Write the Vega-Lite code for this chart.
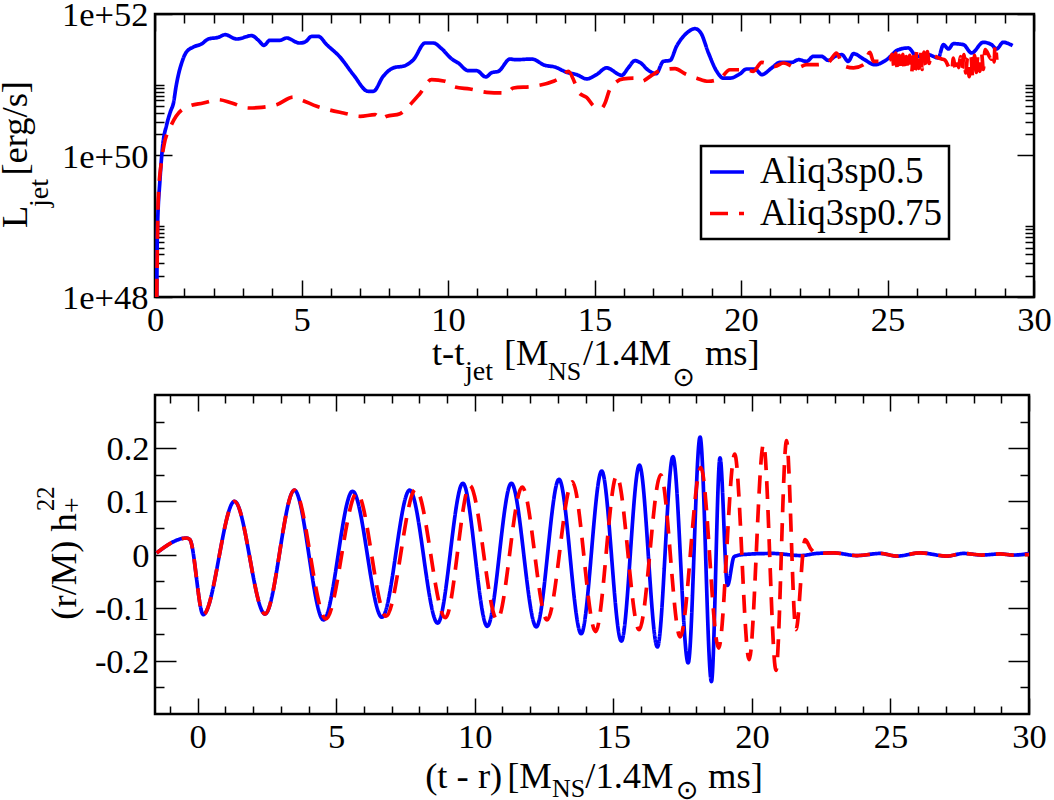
{
  "$schema": "https://vega.github.io/schema/vega-lite/v6.json",
  "background": "white",
  "autosize": {"type": "none"},
  "padding": {"left": 155, "top": 14, "right": 899, "bottom": 786},
  "datasets": {
    "lum": [
      {"t":0.06,"L":1e48,"s":"Aliq3sp0.5"},{"t":0.08,"L":8e48,"s":"Aliq3sp0.5"},{"t":0.17,"L":4.55e49,"s":"Aliq3sp0.5"},{"t":0.26,"L":1.35e50,"s":"Aliq3sp0.5"},{"t":0.4,"L":2.73e50,"s":"Aliq3sp0.5"},{"t":0.53,"L":4.21e50,"s":"Aliq3sp0.5"},{"t":0.63,"L":5.52e50,"s":"Aliq3sp0.5"},{"t":0.72,"L":9.5e50,"s":"Aliq3sp0.5"},{"t":0.8,"L":1.39e51,"s":"Aliq3sp0.5"},{"t":0.91,"L":2.03e51,"s":"Aliq3sp0.5"},{"t":1.05,"L":2.81e51,"s":"Aliq3sp0.5"},{"t":1.31,"L":3.42e51,"s":"Aliq3sp0.5"},{"t":1.59,"L":3.77e51,"s":"Aliq3sp0.5"},{"t":1.82,"L":4.43e51,"s":"Aliq3sp0.5"},{"t":2.16,"L":4.68e51,"s":"Aliq3sp0.5"},{"t":2.39,"L":5.1e51,"s":"Aliq3sp0.5"},{"t":2.79,"L":4.43e51,"s":"Aliq3sp0.5"},{"t":3.3,"L":4.94e51,"s":"Aliq3sp0.5"},{"t":3.53,"L":4.25e51,"s":"Aliq3sp0.5"},{"t":3.72,"L":3.61e51,"s":"Aliq3sp0.5"},{"t":3.92,"L":4.25e51,"s":"Aliq3sp0.5"},{"t":4.27,"L":4.25e51,"s":"Aliq3sp0.5"},{"t":4.49,"L":4.58e51,"s":"Aliq3sp0.5"},{"t":4.93,"L":3.89e51,"s":"Aliq3sp0.5"},{"t":5.12,"L":4.02e51,"s":"Aliq3sp0.5"},{"t":5.35,"L":4.83e51,"s":"Aliq3sp0.5"},{"t":5.57,"L":4.83e51,"s":"Aliq3sp0.5"},{"t":5.86,"L":3.69e51,"s":"Aliq3sp0.5"},{"t":6.31,"L":2.47e51,"s":"Aliq3sp0.5"},{"t":6.77,"L":1.39e51,"s":"Aliq3sp0.5"},{"t":7.28,"L":8.07e50,"s":"Aliq3sp0.5"},{"t":7.45,"L":8.07e50,"s":"Aliq3sp0.5"},{"t":7.79,"L":1.32e51,"s":"Aliq3sp0.5"},{"t":8.13,"L":1.73e51,"s":"Aliq3sp0.5"},{"t":8.53,"L":1.86e51,"s":"Aliq3sp0.5"},{"t":8.82,"L":2.26e51,"s":"Aliq3sp0.5"},{"t":9.22,"L":3.89e51,"s":"Aliq3sp0.5"},{"t":9.5,"L":3.89e51,"s":"Aliq3sp0.5"},{"t":9.78,"L":3.24e51,"s":"Aliq3sp0.5"},{"t":10.13,"L":2.31e51,"s":"Aliq3sp0.5"},{"t":10.35,"L":2.03e51,"s":"Aliq3sp0.5"},{"t":10.69,"L":1.58e51,"s":"Aliq3sp0.5"},{"t":10.98,"L":1.58e51,"s":"Aliq3sp0.5"},{"t":11.29,"L":1.29e51,"s":"Aliq3sp0.5"},{"t":11.49,"L":1.48e51,"s":"Aliq3sp0.5"},{"t":11.72,"L":1.55e51,"s":"Aliq3sp0.5"},{"t":12.12,"L":2.31e51,"s":"Aliq3sp0.5"},{"t":12.29,"L":2.26e51,"s":"Aliq3sp0.5"},{"t":12.86,"L":2.31e51,"s":"Aliq3sp0.5"},{"t":13.31,"L":1.88e51,"s":"Aliq3sp0.5"},{"t":13.65,"L":1.78e51,"s":"Aliq3sp0.5"},{"t":14.05,"L":1.5e51,"s":"Aliq3sp0.5"},{"t":14.39,"L":1.39e51,"s":"Aliq3sp0.5"},{"t":14.73,"L":1.21e51,"s":"Aliq3sp0.5"},{"t":15.07,"L":1.39e51,"s":"Aliq3sp0.5"},{"t":15.41,"L":1.73e51,"s":"Aliq3sp0.5"},{"t":15.93,"L":1.36e51,"s":"Aliq3sp0.5"},{"t":16.15,"L":1.73e51,"s":"Aliq3sp0.5"},{"t":16.38,"L":2.19e51,"s":"Aliq3sp0.5"},{"t":16.55,"L":2.07e51,"s":"Aliq3sp0.5"},{"t":16.84,"L":1.6e51,"s":"Aliq3sp0.5"},{"t":17.1,"L":1.43e51,"s":"Aliq3sp0.5"},{"t":17.35,"L":2.14e51,"s":"Aliq3sp0.5"},{"t":17.58,"L":2.21e51,"s":"Aliq3sp0.5"},{"t":17.8,"L":3.49e51,"s":"Aliq3sp0.5"},{"t":18.15,"L":5.39e51,"s":"Aliq3sp0.5"},{"t":18.43,"L":6.2e51,"s":"Aliq3sp0.5"},{"t":18.63,"L":5.39e51,"s":"Aliq3sp0.5"},{"t":18.89,"L":2.81e51,"s":"Aliq3sp0.5"},{"t":19.17,"L":1.55e51,"s":"Aliq3sp0.5"},{"t":19.4,"L":1.24e51,"s":"Aliq3sp0.5"},{"t":19.62,"L":1.24e51,"s":"Aliq3sp0.5"},{"t":19.97,"L":1.43e51,"s":"Aliq3sp0.5"},{"t":20.19,"L":1.67e51,"s":"Aliq3sp0.5"},{"t":20.48,"L":1.67e51,"s":"Aliq3sp0.5"},{"t":20.71,"L":1.39e51,"s":"Aliq3sp0.5"},{"t":21.05,"L":1.73e51,"s":"Aliq3sp0.5"},{"t":21.33,"L":2.07e51,"s":"Aliq3sp0.5"},{"t":21.73,"L":2.07e51,"s":"Aliq3sp0.5"},{"t":21.96,"L":2.26e51,"s":"Aliq3sp0.5"},{"t":22.24,"L":2.14e51,"s":"Aliq3sp0.5"},{"t":22.47,"L":2.52e51,"s":"Aliq3sp0.5"},{"t":22.75,"L":2.52e51,"s":"Aliq3sp0.5"},{"t":22.98,"L":2.21e51,"s":"Aliq3sp0.5"},{"t":23.26,"L":2.58e51,"s":"Aliq3sp0.5"},{"t":23.44,"L":2.66e51,"s":"Aliq3sp0.5"},{"t":23.66,"L":2.14e51,"s":"Aliq3sp0.5"},{"t":23.84,"L":2.75e51,"s":"Aliq3sp0.5"},{"t":24.18,"L":2.31e51,"s":"Aliq3sp0.5"},{"t":24.57,"L":1.92e51,"s":"Aliq3sp0.5"},{"t":24.97,"L":2.26e51,"s":"Aliq3sp0.5"},{"t":25.37,"L":3.13e51,"s":"Aliq3sp0.5"},{"t":25.71,"L":3.31e51,"s":"Aliq3sp0.5"},{"t":26.0,"L":2.52e51,"s":"Aliq3sp0.5"},{"t":26.39,"L":2.66e51,"s":"Aliq3sp0.5"},{"t":26.73,"L":2.39e51,"s":"Aliq3sp0.5"},{"t":26.91,"L":3.69e51,"s":"Aliq3sp0.5"},{"t":27.08,"L":3.2e51,"s":"Aliq3sp0.5"},{"t":27.25,"L":3.81e51,"s":"Aliq3sp0.5"},{"t":27.59,"L":3.69e51,"s":"Aliq3sp0.5"},{"t":27.87,"L":2.81e51,"s":"Aliq3sp0.5"},{"t":28.27,"L":3.98e51,"s":"Aliq3sp0.5"},{"t":28.55,"L":3.69e51,"s":"Aliq3sp0.5"},{"t":28.72,"L":3.2e51,"s":"Aliq3sp0.5"},{"t":28.95,"L":3.98e51,"s":"Aliq3sp0.5"},{"t":29.27,"L":3.57e51,"s":"Aliq3sp0.5"},
      {"t":0.06,"L":1e48,"s":"Aliq3sp0.75"},{"t":0.11,"L":2.38e49,"s":"Aliq3sp0.75"},{"t":0.23,"L":8.74e49,"s":"Aliq3sp0.75"},{"t":0.31,"L":1.42e50,"s":"Aliq3sp0.75"},{"t":0.51,"L":2.45e50,"s":"Aliq3sp0.75"},{"t":0.72,"L":3.58e50,"s":"Aliq3sp0.75"},{"t":1.14,"L":4.96e50,"s":"Aliq3sp0.75"},{"t":1.65,"L":5.52e50,"s":"Aliq3sp0.75"},{"t":2.16,"L":6.15e50,"s":"Aliq3sp0.75"},{"t":2.62,"L":5.52e50,"s":"Aliq3sp0.75"},{"t":3.19,"L":4.69e50,"s":"Aliq3sp0.75"},{"t":3.64,"L":4.8e50,"s":"Aliq3sp0.75"},{"t":4.15,"L":5.23e50,"s":"Aliq3sp0.75"},{"t":4.72,"L":6.71e50,"s":"Aliq3sp0.75"},{"t":5.06,"L":5.96e50,"s":"Aliq3sp0.75"},{"t":5.52,"L":4.96e50,"s":"Aliq3sp0.75"},{"t":5.91,"L":4.45e50,"s":"Aliq3sp0.75"},{"t":6.43,"L":3.99e50,"s":"Aliq3sp0.75"},{"t":7.0,"L":3.58e50,"s":"Aliq3sp0.75"},{"t":7.51,"L":3.78e50,"s":"Aliq3sp0.75"},{"t":7.7,"L":3.28e50,"s":"Aliq3sp0.75"},{"t":7.91,"L":3.58e50,"s":"Aliq3sp0.75"},{"t":8.36,"L":3.9e50,"s":"Aliq3sp0.75"},{"t":8.65,"L":4.96e50,"s":"Aliq3sp0.75"},{"t":9.04,"L":7.48e50,"s":"Aliq3sp0.75"},{"t":9.44,"L":1.18e51,"s":"Aliq3sp0.75"},{"t":9.9,"L":1.12e51,"s":"Aliq3sp0.75"},{"t":10.24,"L":9.3e50,"s":"Aliq3sp0.75"},{"t":10.75,"L":8.71e50,"s":"Aliq3sp0.75"},{"t":11.32,"L":7.82e50,"s":"Aliq3sp0.75"},{"t":12.0,"L":7.64e50,"s":"Aliq3sp0.75"},{"t":12.23,"L":9.0e50,"s":"Aliq3sp0.75"},{"t":12.91,"L":9.5e50,"s":"Aliq3sp0.75"},{"t":13.6,"L":1.12e51,"s":"Aliq3sp0.75"},{"t":13.82,"L":1.24e51,"s":"Aliq3sp0.75"},{"t":14.11,"L":1.55e51,"s":"Aliq3sp0.75"},{"t":14.33,"L":1.06e51,"s":"Aliq3sp0.75"},{"t":14.48,"L":7.64e50,"s":"Aliq3sp0.75"},{"t":14.73,"L":6.64e50,"s":"Aliq3sp0.75"},{"t":15.02,"L":4.85e50,"s":"Aliq3sp0.75"},{"t":15.25,"L":4.69e50,"s":"Aliq3sp0.75"},{"t":15.36,"L":5.52e50,"s":"Aliq3sp0.75"},{"t":15.53,"L":8.71e50,"s":"Aliq3sp0.75"},{"t":15.98,"L":1.21e51,"s":"Aliq3sp0.75"},{"t":16.38,"L":1.24e51,"s":"Aliq3sp0.75"},{"t":16.61,"L":1.12e51,"s":"Aliq3sp0.75"},{"t":16.95,"L":1.36e51,"s":"Aliq3sp0.75"},{"t":17.23,"L":1.58e51,"s":"Aliq3sp0.75"},{"t":17.75,"L":1.69e51,"s":"Aliq3sp0.75"},{"t":18.09,"L":1.43e51,"s":"Aliq3sp0.75"},{"t":18.49,"L":1.24e51,"s":"Aliq3sp0.75"},{"t":18.89,"L":1.12e51,"s":"Aliq3sp0.75"},{"t":19.28,"L":1.22e51,"s":"Aliq3sp0.75"},{"t":19.62,"L":1.63e51,"s":"Aliq3sp0.75"},{"t":20.19,"L":1.63e51,"s":"Aliq3sp0.75"},{"t":20.42,"L":1.55e51,"s":"Aliq3sp0.75"},{"t":20.71,"L":2.07e51,"s":"Aliq3sp0.75"},{"t":21.16,"L":1.82e51,"s":"Aliq3sp0.75"},{"t":21.45,"L":2.03e51,"s":"Aliq3sp0.75"},{"t":21.9,"L":1.73e51,"s":"Aliq3sp0.75"},{"t":22.24,"L":1.92e51,"s":"Aliq3sp0.75"},{"t":22.58,"L":1.92e51,"s":"Aliq3sp0.75"},{"t":22.98,"L":2.07e51,"s":"Aliq3sp0.75"},{"t":23.26,"L":2.81e51,"s":"Aliq3sp0.75"},{"t":23.49,"L":1.86e51,"s":"Aliq3sp0.75"},{"t":23.84,"L":1.73e51,"s":"Aliq3sp0.75"},{"t":24.18,"L":1.92e51,"s":"Aliq3sp0.75"},{"t":24.4,"L":2.87e51,"s":"Aliq3sp0.75"},{"t":24.52,"L":2.14e51,"s":"Aliq3sp0.75"},{"t":24.8,"L":2.14e51,"s":"Aliq3sp0.75"},{"t":25.08,"L":2.26e51,"s":"Aliq3sp0.75"},
      {"t":25.16,"L":2.7e51,"s":"Aliq3sp0.75"},{"t":25.22,"L":1.8e51,"s":"Aliq3sp0.75"},{"t":25.28,"L":2.8e51,"s":"Aliq3sp0.75"},{"t":25.34,"L":1.6e51,"s":"Aliq3sp0.75"},{"t":25.4,"L":2.6e51,"s":"Aliq3sp0.75"},{"t":25.46,"L":1.7e51,"s":"Aliq3sp0.75"},{"t":25.52,"L":2.7e51,"s":"Aliq3sp0.75"},{"t":25.58,"L":1.55e51,"s":"Aliq3sp0.75"},{"t":25.64,"L":2.5e51,"s":"Aliq3sp0.75"},{"t":25.7,"L":1.6e51,"s":"Aliq3sp0.75"},{"t":25.76,"L":2.6e51,"s":"Aliq3sp0.75"},{"t":25.82,"L":1.45e51,"s":"Aliq3sp0.75"},{"t":25.88,"L":2.5e51,"s":"Aliq3sp0.75"},{"t":25.94,"L":1.6e51,"s":"Aliq3sp0.75"},{"t":26.0,"L":3.0e51,"s":"Aliq3sp0.75"},{"t":26.06,"L":1.7e51,"s":"Aliq3sp0.75"},{"t":26.12,"L":3.1e51,"s":"Aliq3sp0.75"},{"t":26.18,"L":1.65e51,"s":"Aliq3sp0.75"},{"t":26.24,"L":2.9e51,"s":"Aliq3sp0.75"},{"t":26.3,"L":1.9e51,"s":"Aliq3sp0.75"},{"t":26.36,"L":2.95e51,"s":"Aliq3sp0.75"},{"t":26.42,"L":2.0e51,"s":"Aliq3sp0.75"},{"t":26.48,"L":2.7e51,"s":"Aliq3sp0.75"},{"t":26.56,"L":2.6e51,"s":"Aliq3sp0.75"},{"t":26.85,"L":2.31e51,"s":"Aliq3sp0.75"},{"t":26.95,"L":2.25e51,"s":"Aliq3sp0.75"},{"t":27.19,"L":1.55e51,"s":"Aliq3sp0.75"},{"t":27.25,"L":2.39e51,"s":"Aliq3sp0.75"},{"t":27.31,"L":1.7e51,"s":"Aliq3sp0.75"},{"t":27.37,"L":2.2e51,"s":"Aliq3sp0.75"},{"t":27.43,"L":1.75e51,"s":"Aliq3sp0.75"},{"t":27.49,"L":2.5e51,"s":"Aliq3sp0.75"},{"t":27.55,"L":1.7e51,"s":"Aliq3sp0.75"},{"t":27.61,"L":2.66e51,"s":"Aliq3sp0.75"},{"t":27.67,"L":1.47e51,"s":"Aliq3sp0.75"},{"t":27.73,"L":2.4e51,"s":"Aliq3sp0.75"},{"t":27.79,"L":1.3e51,"s":"Aliq3sp0.75"},{"t":27.85,"L":2.5e51,"s":"Aliq3sp0.75"},{"t":27.91,"L":1.24e51,"s":"Aliq3sp0.75"},{"t":27.97,"L":2.6e51,"s":"Aliq3sp0.75"},{"t":28.03,"L":1.5e51,"s":"Aliq3sp0.75"},{"t":28.09,"L":2.7e51,"s":"Aliq3sp0.75"},{"t":28.15,"L":1.55e51,"s":"Aliq3sp0.75"},{"t":28.21,"L":2.8e51,"s":"Aliq3sp0.75"},{"t":28.27,"L":1.65e51,"s":"Aliq3sp0.75"},{"t":28.33,"L":3.13e51,"s":"Aliq3sp0.75"},{"t":28.55,"L":2.3e51,"s":"Aliq3sp0.75"},{"t":28.6,"L":2.8e51,"s":"Aliq3sp0.75"},{"t":28.64,"L":2.1e51,"s":"Aliq3sp0.75"},{"t":28.67,"L":3.69e51,"s":"Aliq3sp0.75"},{"t":28.73,"L":2.26e51,"s":"Aliq3sp0.75"}
    ],
    "wave": [
      {"t":-1.48,"h":0.003,"s":"Aliq3sp0.5"},{"t":-0.4,"h":0.031,"s":"Aliq3sp0.5"},{"t":-0.28,"h":0.028,"s":"Aliq3sp0.5"},{"t":0.2,"h":-0.113,"s":"Aliq3sp0.5"},{"t":1.33,"h":0.1,"s":"Aliq3sp0.5"},{"t":2.43,"h":-0.112,"s":"Aliq3sp0.5"},{"t":3.49,"h":0.121,"s":"Aliq3sp0.5"},{"t":4.54,"h":-0.123,"s":"Aliq3sp0.5"},{"t":5.59,"h":0.119,"s":"Aliq3sp0.5"},{"t":6.65,"h":-0.118,"s":"Aliq3sp0.5"},{"t":7.65,"h":0.121,"s":"Aliq3sp0.5"},{"t":8.66,"h":-0.129,"s":"Aliq3sp0.5"},{"t":9.57,"h":0.134,"s":"Aliq3sp0.5"},{"t":10.45,"h":-0.135,"s":"Aliq3sp0.5"},{"t":11.32,"h":0.134,"s":"Aliq3sp0.5"},{"t":12.22,"h":-0.136,"s":"Aliq3sp0.5"},{"t":13.04,"h":0.1415,"s":"Aliq3sp0.5"},{"t":13.84,"h":-0.149,"s":"Aliq3sp0.5"},{"t":14.58,"h":0.157,"s":"Aliq3sp0.5"},{"t":15.29,"h":-0.163,"s":"Aliq3sp0.5"},{"t":15.94,"h":0.168,"s":"Aliq3sp0.5"},{"t":16.59,"h":-0.174,"s":"Aliq3sp0.5"},{"t":17.15,"h":0.184,"s":"Aliq3sp0.5"},{"t":17.7,"h":-0.204,"s":"Aliq3sp0.5"},{"t":18.13,"h":0.221,"s":"Aliq3sp0.5"},{"t":18.54,"h":-0.239,"s":"Aliq3sp0.5"},{"t":18.85,"h":0.182,"s":"Aliq3sp0.5"},{"t":19.12,"h":-0.058,"s":"Aliq3sp0.5"},{"t":19.36,"h":-0.004,"s":"Aliq3sp0.5"},{"t":19.7,"h":0.0,"s":"Aliq3sp0.5"},{"t":20.75,"h":0.002,"s":"Aliq3sp0.5"},{"t":21.77,"h":-0.002,"s":"Aliq3sp0.5"},{"t":22.34,"h":0.002,"s":"Aliq3sp0.5"},{"t":22.95,"h":0.003,"s":"Aliq3sp0.5"},{"t":23.79,"h":-0.002,"s":"Aliq3sp0.5"},{"t":24.63,"h":0.002,"s":"Aliq3sp0.5"},{"t":25.23,"h":-0.003,"s":"Aliq3sp0.5"},{"t":26.08,"h":0.003,"s":"Aliq3sp0.5"},{"t":27.04,"h":-0.003,"s":"Aliq3sp0.5"},{"t":27.64,"h":0.002,"s":"Aliq3sp0.5"},{"t":28.3,"h":-0.001,"s":"Aliq3sp0.5"},{"t":28.96,"h":0.001,"s":"Aliq3sp0.5"},{"t":29.45,"h":-0.001,"s":"Aliq3sp0.5"},{"t":30,"h":0.002,"s":"Aliq3sp0.5"},
      {"t":-1.48,"h":0.003,"s":"Aliq3sp0.75"},{"t":-0.4,"h":0.031,"s":"Aliq3sp0.75"},{"t":-0.28,"h":0.028,"s":"Aliq3sp0.75"},{"t":0.2,"h":-0.113,"s":"Aliq3sp0.75"},{"t":1.33,"h":0.1,"s":"Aliq3sp0.75"},{"t":2.43,"h":-0.112,"s":"Aliq3sp0.75"},{"t":3.49,"h":0.121,"s":"Aliq3sp0.75"},{"t":4.63,"h":-0.121,"s":"Aliq3sp0.75"},{"t":5.75,"h":0.116,"s":"Aliq3sp0.75"},{"t":6.8,"h":-0.116,"s":"Aliq3sp0.75"},{"t":7.87,"h":0.123,"s":"Aliq3sp0.75"},{"t":8.94,"h":-0.119,"s":"Aliq3sp0.75"},{"t":9.82,"h":0.13,"s":"Aliq3sp0.75"},{"t":10.81,"h":-0.123,"s":"Aliq3sp0.75"},{"t":11.71,"h":0.127,"s":"Aliq3sp0.75"},{"t":12.61,"h":-0.123,"s":"Aliq3sp0.75"},{"t":13.52,"h":0.1365,"s":"Aliq3sp0.75"},{"t":14.36,"h":-0.145,"s":"Aliq3sp0.75"},{"t":15.12,"h":0.148,"s":"Aliq3sp0.75"},{"t":15.93,"h":-0.1415,"s":"Aliq3sp0.75"},{"t":16.71,"h":0.15,"s":"Aliq3sp0.75"},{"t":17.41,"h":-0.155,"s":"Aliq3sp0.75"},{"t":18.16,"h":0.1635,"s":"Aliq3sp0.75"},{"t":18.8,"h":-0.176,"s":"Aliq3sp0.75"},{"t":19.38,"h":0.189,"s":"Aliq3sp0.75"},{"t":19.9,"h":-0.198,"s":"Aliq3sp0.75"},{"t":20.42,"h":0.2075,"s":"Aliq3sp0.75"},{"t":20.87,"h":-0.218,"s":"Aliq3sp0.75"},{"t":21.25,"h":0.214,"s":"Aliq3sp0.75"},{"t":21.59,"h":-0.1415,"s":"Aliq3sp0.75"},{"t":21.92,"h":0.028,"s":"Aliq3sp0.75"},{"t":22.13,"h":0.01,"s":"Aliq3sp0.75"},{"t":22.34,"h":0.002,"s":"Aliq3sp0.75"},{"t":22.95,"h":0.003,"s":"Aliq3sp0.75"},{"t":23.79,"h":-0.002,"s":"Aliq3sp0.75"},{"t":24.63,"h":0.002,"s":"Aliq3sp0.75"},{"t":25.23,"h":-0.003,"s":"Aliq3sp0.75"},{"t":26.08,"h":0.003,"s":"Aliq3sp0.75"},{"t":27.04,"h":-0.003,"s":"Aliq3sp0.75"},{"t":27.64,"h":0.002,"s":"Aliq3sp0.75"},{"t":28.3,"h":-0.001,"s":"Aliq3sp0.75"},{"t":28.96,"h":0.001,"s":"Aliq3sp0.75"},{"t":29.45,"h":-0.001,"s":"Aliq3sp0.75"},{"t":30,"h":0.0,"s":"Aliq3sp0.75"}
    ]
  },
  "vconcat": [
    {
      "width": 879,
      "height": 283,
      "data": {"values": [{}]},
      "resolve": {"axis": {"x": "independent", "y": "independent"}},
      "layer": [
        {"mark": {"type": "point", "opacity": 0}, "encoding": {
          "x": {"datum": 1, "scale": {"domain": [0, 30], "nice": false}, "axis": {"orient": "bottom", "values": [0, 5, 10, 15, 20, 25, 30], "tickSize": -17, "labelPadding": 23, "format": "d"}, "title": null},
          "y": {"datum": 1e50, "scale": {"type": "log", "domain": [1e48, 1e52], "nice": false}, "axis": {"orient": "left", "values": [1e48, 1e50, 1e52], "tickSize": -17, "labelPadding": 24, "labelOffset": 1.5, "format": ".0e"}, "title": null}}},
        {"mark": {"type": "point", "opacity": 0}, "encoding": {
          "x": {"datum": 1, "axis": {"orient": "top", "values": [0, 5, 10, 15, 20, 25, 30], "tickSize": -17, "labels": false}, "title": null},
          "y": {"datum": 1e50, "axis": {"orient": "right", "values": [1e48, 1e50, 1e52], "tickSize": -17, "labels": false}, "title": null}}},
        {"mark": {"type": "point", "opacity": 0}, "encoding": {
          "x": {"datum": 1, "axis": {"orient": "bottom", "values": [1, 2, 3, 4, 6, 7, 8, 9, 11, 12, 13, 14, 16, 17, 18, 19, 21, 22, 23, 24, 26, 27, 28, 29], "tickSize": -9, "labels": false}, "title": null},
          "y": {"datum": 1e50, "axis": {"orient": "left", "values": [2e48, 3e48, 4e48, 5e48, 6e48, 7e48, 8e48, 9e48, 1e49, 2e50, 3e50, 4e50, 5e50, 6e50, 7e50, 8e50, 9e50, 1e51], "tickSize": -9, "labels": false}, "title": null}}},
        {"mark": {"type": "point", "opacity": 0}, "encoding": {
          "x": {"datum": 1, "axis": {"orient": "top", "values": [1, 2, 3, 4, 6, 7, 8, 9, 11, 12, 13, 14, 16, 17, 18, 19, 21, 22, 23, 24, 26, 27, 28, 29], "tickSize": -9, "labels": false}, "title": null},
          "y": {"datum": 1e50, "axis": {"orient": "right", "values": [2e48, 3e48, 4e48, 5e48, 6e48, 7e48, 8e48, 9e48, 1e49, 2e50, 3e50, 4e50, 5e50, 6e50, 7e50, 8e50, 9e50, 1e51], "tickSize": -9, "labels": false}, "title": null}}},
        {"data": {"name": "lum"}, "mark": {"type": "line", "strokeWidth": 3.7, "interpolate": "monotone"},
          "encoding": {
            "x": {"field": "t", "type": "quantitative", "axis": null},
            "y": {"field": "L", "type": "quantitative", "axis": null, "scale": {"type": "log"}},
            "color": {"field": "s", "type": "nominal", "title": null, "scale": {"domain": ["Aliq3sp0.5", "Aliq3sp0.75"], "range": ["#0000ff", "#ff0000"]}, "legend": {"orient": "none", "legendX": 546, "legendY": 132}},
            "strokeDash": {"field": "s", "type": "nominal", "title": null, "scale": {"domain": ["Aliq3sp0.5", "Aliq3sp0.75"], "range": [[1, 0], [18, 11]]}, "legend": {"orient": "none", "legendX": 546, "legendY": 132}}
          }},
        {"mark": {"type": "text"}, "encoding": {"x": {"datum": 9.45, "axis": null}, "y": {"datum": 1.09e47, "axis": null}, "text": {"value": "t-t"}}},
        {"mark": {"type": "text", "fontSize": 28}, "encoding": {"x": {"datum": 10.58, "axis": null}, "y": {"datum": 6.7e46, "axis": null}, "text": {"value": "jet"}}},
        {"mark": {"type": "text"}, "encoding": {"x": {"datum": 11.91, "axis": null}, "y": {"datum": 1.09e47, "axis": null}, "text": {"value": "[M"}}},
        {"mark": {"type": "text", "fontSize": 26}, "encoding": {"x": {"datum": 13.41, "axis": null}, "y": {"datum": 6.7e46, "axis": null}, "text": {"value": "NS"}}},
        {"mark": {"type": "text"}, "encoding": {"x": {"datum": 14.61, "axis": null}, "y": {"datum": 1.09e47, "axis": null}, "text": {"value": "/1.4M"}}},
        {"mark": {"type": "text", "font": "DejaVu Sans", "fontSize": 27}, "encoding": {"x": {"datum": 17.66, "axis": null}, "y": {"datum": 5.53e46, "axis": null}, "text": {"value": "⊙"}}},
        {"mark": {"type": "text"}, "encoding": {"x": {"datum": 18.77, "axis": null}, "y": {"datum": 1.09e47, "axis": null}, "text": {"value": "ms]"}}},
        {"mark": {"type": "text", "angle": 270}, "encoding": {"x": {"datum": -4.37, "axis": null}, "y": {"datum": 9.43e48, "axis": null}, "text": {"value": "L"}}},
        {"mark": {"type": "text", "angle": 270, "fontSize": 28}, "encoding": {"x": {"datum": -3.65, "axis": null}, "y": {"datum": 1.87e49, "axis": null}, "text": {"value": "jet"}}},
        {"mark": {"type": "text", "angle": 270}, "encoding": {"x": {"datum": -4.37, "axis": null}, "y": {"datum": 5.2e49, "axis": null}, "text": {"value": "[erg/s]"}}}
      ]
    },
    {
      "width": 874,
      "height": 319,
      "data": {"values": [{}]},
      "resolve": {"axis": {"x": "independent", "y": "independent"}},
      "layer": [
        {"mark": {"type": "point", "opacity": 0}, "encoding": {
          "x": {"datum": 1, "scale": {"domain": [-1.54, 30], "nice": false}, "axis": {"orient": "bottom", "values": [0, 5, 10, 15, 20, 25, 30], "tickSize": -16, "labelPadding": 22, "format": "d"}, "title": null},
          "y": {"datum": 0, "scale": {"domain": [-0.3, 0.3], "nice": false}, "axis": {"orient": "left", "values": [-0.2, -0.1, 0, 0.1, 0.2], "tickSize": -21, "labelPadding": 27, "labelOffset": 1.5, "labelExpr": "'' + datum.value"}, "title": null}}},
        {"mark": {"type": "point", "opacity": 0}, "encoding": {
          "x": {"datum": 1, "axis": {"orient": "top", "values": [0, 5, 10, 15, 20, 25, 30], "tickSize": -16, "labels": false}, "title": null},
          "y": {"datum": 0, "axis": {"orient": "right", "values": [-0.2, -0.1, 0, 0.1, 0.2], "tickSize": -21, "labels": false}, "title": null}}},
        {"mark": {"type": "point", "opacity": 0}, "encoding": {
          "x": {"datum": 1, "axis": {"orient": "bottom", "values": [-1, 1, 2, 3, 4, 6, 7, 8, 9, 11, 12, 13, 14, 16, 17, 18, 19, 21, 22, 23, 24, 26, 27, 28, 29], "tickSize": -8, "labels": false}, "title": null},
          "y": {"datum": 0, "axis": {"orient": "left", "values": [-0.25, -0.15, -0.05, 0.05, 0.15, 0.25], "tickSize": -9, "labels": false}, "title": null}}},
        {"mark": {"type": "point", "opacity": 0}, "encoding": {
          "x": {"datum": 1, "axis": {"orient": "top", "values": [-1, 1, 2, 3, 4, 6, 7, 8, 9, 11, 12, 13, 14, 16, 17, 18, 19, 21, 22, 23, 24, 26, 27, 28, 29], "tickSize": -8, "labels": false}, "title": null},
          "y": {"datum": 0, "axis": {"orient": "right", "values": [-0.25, -0.15, -0.05, 0.05, 0.15, 0.25], "tickSize": -9, "labels": false}, "title": null}}},
        {"data": {"name": "wave"}, "mark": {"type": "line", "strokeWidth": 3.7, "interpolate": "monotone"},
          "encoding": {
            "x": {"field": "t", "type": "quantitative", "axis": null},
            "y": {"field": "h", "type": "quantitative", "axis": null},
            "color": {"field": "s", "type": "nominal", "legend": null, "scale": {"domain": ["Aliq3sp0.5", "Aliq3sp0.75"], "range": ["#0000ff", "#ff0000"]}},
            "strokeDash": {"field": "s", "type": "nominal", "legend": null, "scale": {"domain": ["Aliq3sp0.5", "Aliq3sp0.75"], "range": [[1, 0], [15, 9]]}}
          }},
        {"mark": {"type": "text"}, "encoding": {"x": {"datum": 8.21, "axis": null}, "y": {"datum": -0.4396, "axis": null}, "text": {"value": "(t - r)"}}},
        {"mark": {"type": "text"}, "encoding": {"x": {"datum": 11.17, "axis": null}, "y": {"datum": -0.4396, "axis": null}, "text": {"value": "[M"}}},
        {"mark": {"type": "text", "fontSize": 26}, "encoding": {"x": {"datum": 12.79, "axis": null}, "y": {"datum": -0.4566, "axis": null}, "text": {"value": "NS"}}},
        {"mark": {"type": "text"}, "encoding": {"x": {"datum": 13.99, "axis": null}, "y": {"datum": -0.4396, "axis": null}, "text": {"value": "/1.4M"}}},
        {"mark": {"type": "text", "font": "DejaVu Sans", "fontSize": 27}, "encoding": {"x": {"datum": 17.26, "axis": null}, "y": {"datum": -0.46, "axis": null}, "text": {"value": "⊙"}}},
        {"mark": {"type": "text"}, "encoding": {"x": {"datum": 18.42, "axis": null}, "y": {"datum": -0.4396, "axis": null}, "text": {"value": "ms]"}}},
        {"mark": {"type": "text", "angle": 270}, "encoding": {"x": {"datum": -4.39, "axis": null}, "y": {"datum": -0.1226, "axis": null}, "text": {"value": "(r/M) h"}}},
        {"mark": {"type": "text", "angle": 270, "fontSize": 28}, "encoding": {"x": {"datum": -4.22, "axis": null}, "y": {"datum": 0.0774, "axis": null}, "text": {"value": "+"}}},
        {"mark": {"type": "text", "angle": 270, "fontSize": 24.5}, "encoding": {"x": {"datum": -5.19, "axis": null}, "y": {"datum": 0.0817, "axis": null}, "text": {"value": "22"}}}
      ]
    }
  ],
  "spacing": 98,
  "bounds": "flush",
  "config": {
    "font": "Liberation Serif",
    "view": {"stroke": "black", "strokeWidth": 2.5, "fill": null},
    "text": {"font": "Liberation Serif", "fontSize": 36.5, "align": "left", "baseline": "alphabetic", "color": "black"},
    "axis": {"domain": false, "grid": false, "ticks": true, "tickColor": "black", "tickWidth": 1.5, "labelFont": "Liberation Serif", "labelFontSize": 34.5, "labelColor": "black", "labelOverlap": false, "labelBound": false, "labelFlush": false},
    "legend": {"symbolType": "stroke", "symbolSize": 1156, "symbolStrokeWidth": 3.7, "labelFont": "Liberation Serif", "labelFontSize": 37, "labelColor": "black", "labelLimit": 400, "labelOffset": 14, "labelExpr": "datum.label + '\u00a0\u00a0\u00a0'", "rowPadding": 4.5, "padding": 7, "strokeColor": "black", "strokeWidth": 2.5, "fillColor": "white"}
  }
}
